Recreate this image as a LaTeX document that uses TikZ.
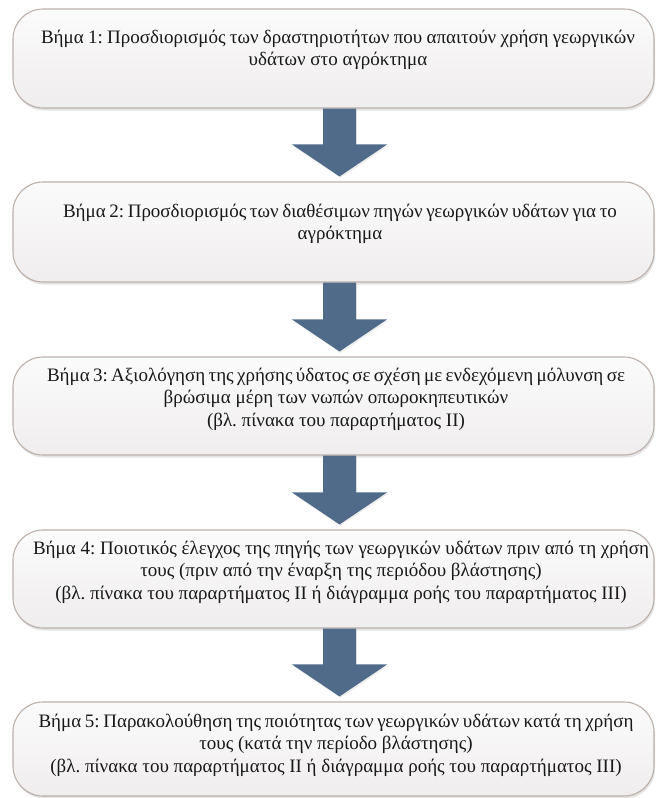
\documentclass[tikz,border=0pt]{standalone}
\usepackage{fontspec}
\setmainfont{Liberation Serif}
\usetikzlibrary{shadows,calc}
\definecolor{boxborder}{RGB}{188,176,170}
\definecolor{boxtop}{RGB}{252,251,251}
\definecolor{boxbot}{RGB}{239,237,237}
\definecolor{arrowblue}{RGB}{80,106,138}
\frenchspacing
\tikzset{
  stepbox/.style={rectangle, rounded corners=30pt, draw=boxborder, line width=1.1pt,
    top color=boxtop, bottom color=boxbot, minimum width=641pt,
    drop shadow={opacity=0.22, shadow xshift=1pt, shadow yshift=-2.5pt}},
  steptext/.style={align=center, inner sep=0pt, text=black!90,
    font=\fontsize{19}{22.5}\selectfont},
  blockarrow/.style={fill=arrowblue, draw=none,
    drop shadow={opacity=0.15, shadow xshift=1pt, shadow yshift=-1.5pt}}
}
\newcommand{\fl}[2]{\makebox[#1pt][s]{#2}}
\newcommand{\downarrowbetween}[2]{%
  \path[blockarrow] let \p1 = (#1.south -| ax), \p2 = (#2.north -| ax) in
    (\x1-16.5pt,\y1) -- (\x1+16.5pt,\y1) -- (\x1+16.5pt,\y2+37pt) --
    (\x1+47.5pt,\y2+37pt) -- (\x1,\y2+5pt) -- (\x1-47.5pt,\y2+37pt) --
    (\x1-16.5pt,\y2+37pt) -- cycle;}
\begin{document}
\begin{tikzpicture}[x=1pt,y=-1pt]
\useasboundingbox (0,0) rectangle (657,798);
\coordinate (ax) at (339.5,0);

\node[stepbox, minimum height=99pt] (b1) at (333.5,58.5) {};
\node[stepbox, minimum height=100pt] (b2) at (333.5,232) {};
\node[stepbox, minimum height=98pt] (b3) at (333.5,406) {};
\node[stepbox, minimum height=98pt] (b4) at (333.5,579) {};
\node[stepbox, minimum height=94pt] (b5) at (333.5,749) {};

\node[steptext] (t1) at (338,50) {\fl{594}{Βήμα 1: Προσδιορισμός των δραστηριοτήτων που απαιτούν χρήση γεωργικών}\\
  υδάτων στο αγρόκτημα};
\node[steptext] (t2) at (340,224) {\fl{554}{Βήμα 2: Προσδιορισμός των διαθέσιμων πηγών γεωργικών υδάτων για το}\\
  αγρόκτημα};
\node[steptext] (t3) at (336,399) {\fl{578}{Βήμα 3: Αξιολόγηση της χρήσης ύδατος σε σχέση με ενδεχόμενη μόλυνση σε}\\
  βρώσιμα μέρη των νωπών οπωροκηπευτικών\\
  (βλ. πίνακα του παραρτήματος II)};
\node[steptext] (t4) at (341,572) {\fl{616}{Βήμα 4: Ποιοτικός έλεγχος της πηγής των γεωργικών υδάτων πριν από τη χρήση}\\
  τους (πριν από την έναρξη της περιόδου βλάστησης)\\
  (βλ. πίνακα του παραρτήματος II ή διάγραμμα ροής του παραρτήματος III)};
\node[steptext] (t5) at (336,745) {\fl{595}{Βήμα 5: Παρακολούθηση της ποιότητας των γεωργικών υδάτων κατά τη χρήση}\\
  τους (κατά την περίοδο βλάστησης)\\
  (βλ. πίνακα του παραρτήματος II ή διάγραμμα ροής του παραρτήματος III)};

\downarrowbetween{b1}{b2}
\downarrowbetween{b2}{b3}
\downarrowbetween{b3}{b4}
\downarrowbetween{b4}{b5}
\end{tikzpicture}
\end{document}
